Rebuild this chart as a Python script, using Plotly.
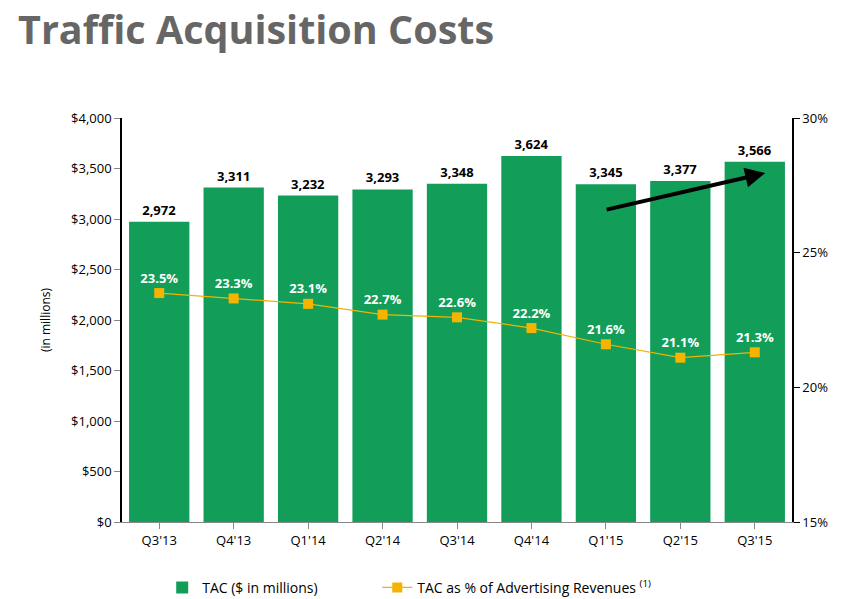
import plotly.graph_objects as go

# data
quarters = ["Q3'13", "Q4'13", "Q1'14", "Q2'14", "Q3'14", "Q4'14", "Q1'15", "Q2'15", "Q3'15"]
tac = [2972, 3311, 3232, 3293, 3348, 3624, 3345, 3377, 3566]
tac_pct = [23.5, 23.3, 23.1, 22.7, 22.6, 22.2, 21.6, 21.1, 21.3]

green = "#129E58"
orange = "#F5B400"
font = "Open Sans"

fig = go.Figure()

fig.add_trace(go.Bar(
    x=quarters, y=tac, name="TAC ($ in millions)", legend="legend",
    marker=dict(color=green, line=dict(width=0)),
    text=[f"{v:,}" for v in tac], textposition="outside",
    textfont=dict(family=font, size=13, color="black", weight="bold"),
    cliponaxis=False,
))

fig.add_trace(go.Scatter(
    x=quarters, y=tac_pct, yaxis="y2", legend="legend2",
    name="TAC as % of Advertising Revenues <sup>(1)</sup>",
    mode="lines+markers+text",
    line=dict(color="#F0B400", width=1.2),
    marker=dict(symbol="square", size=10, color=orange),
    text=[f"{v}%" for v in tac_pct], textposition="top center",
    textfont=dict(family=font, size=13, color="white", weight="bold"),
))

# the hand-drawn arrow from Q1'15 up to Q3'15
fig.add_annotation(
    x=8.14, y=3455, ax=5.99, ay=3089, xref="x", yref="y", axref="x", ayref="y",
    showarrow=True, arrowhead=2, arrowsize=1, arrowwidth=4, arrowcolor="black", text="",
)

legend_font = dict(family=font, size=14, color="black")

# page body has an 8px margin, so the figure is 8px smaller each way
fig.update_layout(
    width=857, height=591,
    margin=dict(l=114, r=73, t=110, b=77, autoexpand=False),
    plot_bgcolor="white", paper_bgcolor="white",
    font=dict(family=font, size=13, color="black"),
    title=dict(text="<b>Traffic Acquisition Costs</b>", x=0.0117, xanchor="left",
               y=0.963, yanchor="middle", yref="container",
               font=dict(family=font, size=39.5, color="#666666")),
    bargap=0.19,
    showlegend=True,
    legend=dict(orientation="h", x=0.06, y=-0.163, xanchor="left", yanchor="middle",
                font=legend_font),
    legend2=dict(orientation="h", x=0.381, y=-0.163, xanchor="left", yanchor="middle",
                 font=legend_font),
    xaxis=dict(
        range=[-0.5, 8.5], showline=True, linecolor="#888888", linewidth=1,
        ticks="outside", ticklen=6, tickcolor="#888888", showgrid=False,
        tickfont=dict(size=13), automargin=False,
    ),
    yaxis=dict(
        range=[0, 4000], dtick=500, tickprefix="$", tickformat=",",
        showline=True, linecolor="black", linewidth=1.5,
        ticks="outside", ticklen=6, tickcolor="#888888", showgrid=False,
        title=dict(text="(in millions)", font=dict(size=12), standoff=18),
        zeroline=False, tickfont=dict(size=13), automargin=False,
    ),
    yaxis2=dict(
        range=[15, 30], dtick=5, ticksuffix="%", overlaying="y", side="right",
        showline=True, linecolor="black", linewidth=1.5,
        ticks="outside", ticklen=6, tickcolor="black", showgrid=False,
        zeroline=False, tickfont=dict(size=13), automargin=False,
    ),
)

fig.write_html("out.html")
